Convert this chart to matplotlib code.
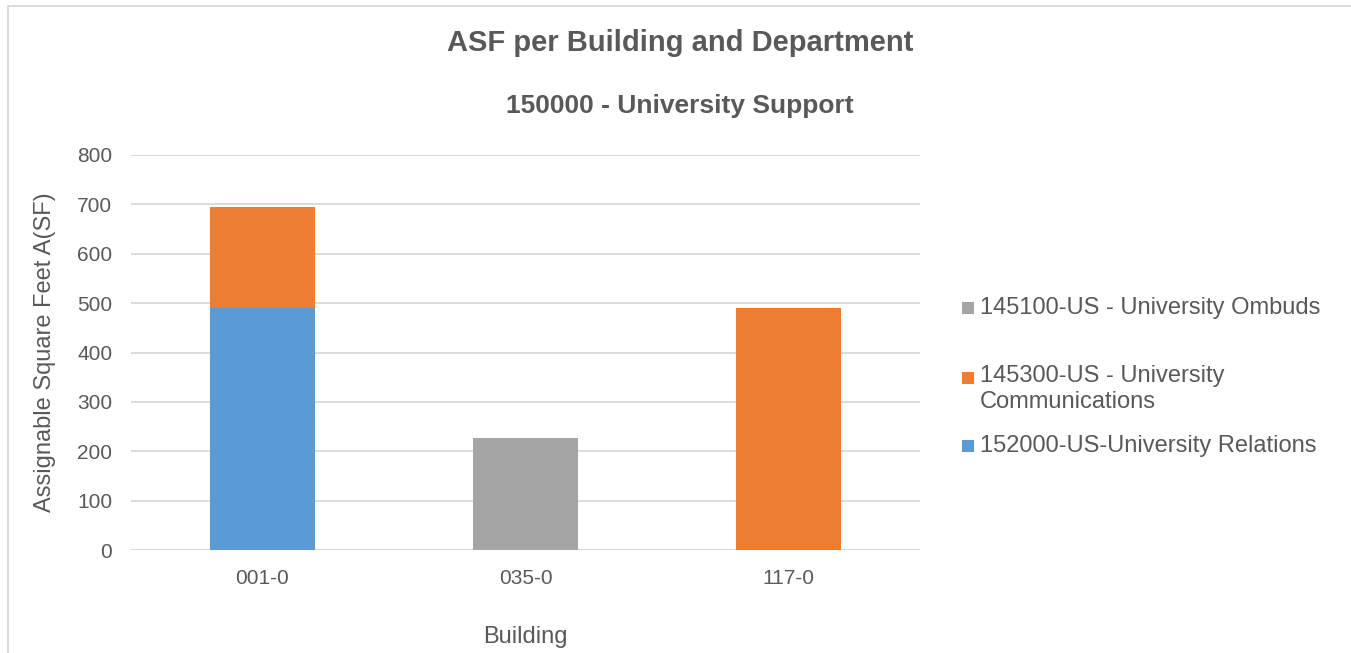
import matplotlib
matplotlib.use("Agg")
import matplotlib.pyplot as plt
from matplotlib.patches import Rectangle
import numpy as np

plt.rcParams['font.family'] = ['Liberation Sans', 'DejaVu Sans']

buildings = ["001-0", "035-0", "117-0"]
series_names = ["145100-US - University Ombuds",
                "145300-US - University\nCommunications",
                "152000-US-University Relations"]
relations = [490, 0, 0]
communications = [204, 0, 490]
ombuds = [0, 227, 0]
colors = {"ombuds": "#A5A5A5", "comm": "#ED7D31", "rel": "#5B9BD5"}
yticks = [0, 100, 200, 300, 400, 500, 600, 700, 800]

TXT = "#595959"
W, H = 1351, 653
fig = plt.figure(figsize=(W / 100, H / 100), dpi=100)
ax = fig.add_axes([131 / W, 1 - 550 / H, (920 - 131) / W, (550 - 155) / H])

x = np.arange(len(buildings))
bw = 0.40
ax.bar(x, relations, bw, color=colors["rel"], zorder=3)
ax.bar(x, communications, bw, bottom=relations, color=colors["comm"], zorder=3)
ax.bar(x, ombuds, bw, bottom=np.array(relations) + np.array(communications),
       color=colors["ombuds"], zorder=3)

ax.set_xlim(-0.5, len(buildings) - 0.5)
ax.set_ylim(0, 800)
ax.set_yticks(yticks)
ax.set_xticks(x)
ax.set_xticklabels(buildings)
ax.grid(axis='y', color='#D9D9D9', linewidth=1.3, zorder=0)
for s in ax.spines.values():
    s.set_visible(False)
ax.axhline(0, color='#D9D9D9', linewidth=1.3, zorder=1)
ax.tick_params(axis='both', length=0, labelsize=15, colors=TXT)
ax.tick_params(axis='y', pad=13.5)
ax.tick_params(axis='x', pad=14)

ax.set_ylabel("Assignable Square Feet A(SF)", fontsize=17, color=TXT, labelpad=15)
ax.set_xlabel("Building", fontsize=17, color=TXT, labelpad=27)

fig.text(680 / W, 1 - 43 / H, "ASF per Building and Department", fontsize=21,
         fontweight='bold', color=TXT, ha='center', va='center')
fig.text(680 / W, 1 - 106 / H, "150000 - University Support", fontsize=19,
         fontweight='bold', color=TXT, ha='center', va='center')

# legend (manual layout to match reference spacing)
leg_items = [(series_names[0], colors["ombuds"], 308, 308),
             (series_names[1], colors["comm"], 378, 365),
             (series_names[2], colors["rel"], 446, 446)]
for label, c, ysq, ytxt in leg_items:
    fig.add_artist(Rectangle((962 / W, 1 - (ysq + 6) / H), 12 / W, 12 / H,
                             transform=fig.transFigure, color=c, lw=0))
    fig.text(980 / W, 1 - ytxt / H, label, fontsize=17, color=TXT,
             ha='left', va='top' if '\n' in label else 'center',
             linespacing=1.25)

# chart border
fig.add_artist(Rectangle((8 / W, -0.05), 1.1, 1 - 6 / H + 0.05,
                         transform=fig.transFigure, fill=False,
                         edgecolor='#D9D9D9', lw=1.3))

fig.savefig("out.png", dpi=100)
